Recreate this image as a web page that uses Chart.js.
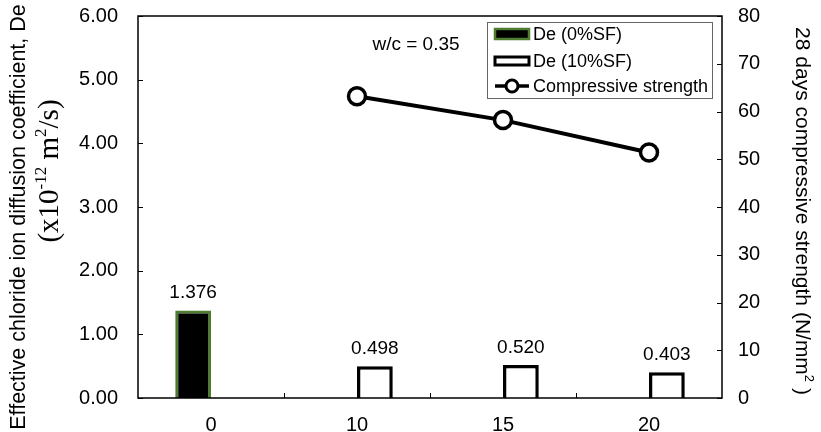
<!DOCTYPE html>
<html>
<head>
<meta charset="utf-8">
<script src="https://cdn.jsdelivr.net/npm/chart.js@4.4.1/dist/chart.umd.min.js"></script>
<style>
  html, body { margin: 0; padding: 0; background: #fff; }
  #wrap { width: 821px; height: 432px; position: relative; }
</style>
</head>
<body>
<div id="wrap"><canvas id="c" width="821" height="432"></canvas></div>
<script>
// ---- data ----
const categories = ['0', '10', '15', '20'];
const de0SF = [1.376, null, null, null];
const de10SF = [null, 0.498, 0.520, 0.403];
const strength = [null, 63.2, 58.2, 51.4];
const leftTickStep = 1;
const rightTickStep = 10;
const seriesNames = ['De (0%SF)', 'De (10%SF)', 'Compressive strength'];
const annotationText = 'w/c = 0.35';

const GREEN = '#4e7d32';
const SANS = '"Liberation Sans", Arial, sans-serif';
const SERIF = '"Liberation Serif", "Times New Roman", serif';

function drawRich(ctx, parts, cx, cy) {
  let total = 0;
  parts.forEach(p => { ctx.font = p.font; p.w = ctx.measureText(p.t).width; total += p.w; });
  let x = cx - total / 2;
  ctx.textAlign = 'left';
  ctx.textBaseline = 'middle';
  parts.forEach(p => { ctx.font = p.font; ctx.fillText(p.t, x, cy + (p.dy || 0)); x += p.w; });
}

const decor = {
  id: 'decor',
  afterDatasetsDraw(chart) {
    const ctx = chart.ctx;
    ctx.save();
    ctx.fillStyle = '#000';
    ctx.font = '19px ' + SANS;
    ctx.textAlign = 'center';
    ctx.textBaseline = 'bottom';
    [0, 1].forEach(di => {
      const meta = chart.getDatasetMeta(di);
      const data = chart.data.datasets[di].data;
      meta.data.forEach((el, i) => {
        if (data[i] === null || data[i] === undefined) return;
        ctx.fillText(data[i].toFixed(3), el.x, el.y - 8);
      });
    });
    ctx.restore();
  },
  afterDraw(chart) {
    const ctx = chart.ctx;
    const a = chart.chartArea;
    const xs = chart.scales.x, y = chart.scales.y, y1 = chart.scales.y1;
    ctx.save();
    // frame
    ctx.strokeStyle = '#000';
    ctx.lineWidth = 1.5;
    ctx.strokeRect(a.left, a.top, a.right - a.left, a.bottom - a.top);
    // ticks
    ctx.lineWidth = 1;
    ctx.beginPath();
    y.ticks.forEach(t => {
      const p = Math.round(y.getPixelForValue(t.value)) + 0.5;
      ctx.moveTo(a.left, p); ctx.lineTo(a.left + 5, p);
    });
    y1.ticks.forEach(t => {
      const p = Math.round(y1.getPixelForValue(t.value)) + 0.5;
      ctx.moveTo(a.right - 5, p); ctx.lineTo(a.right, p);
    });
    for (let i = 0; i < categories.length - 1; i++) {
      const p = Math.round((xs.getPixelForValue(i) + xs.getPixelForValue(i + 1)) / 2) + 0.5;
      ctx.moveTo(p, a.bottom); ctx.lineTo(p, a.bottom - 5);
    }
    ctx.stroke();

    // annotation
    ctx.fillStyle = '#000';
    ctx.font = '19px ' + SANS;
    ctx.textAlign = 'center';
    ctx.textBaseline = 'middle';
    ctx.fillText(annotationText, a.left + 278, a.top + 29);

    // legend
    const lx = a.left + 349, ly = a.top + 6, lw = 225, lh = 76;
    ctx.strokeStyle = '#666';
    ctx.lineWidth = 1;
    ctx.strokeRect(lx + 0.5, ly + 0.5, lw, lh);
    const ds = chart.data.datasets;
    const rows = [ly + 12, ly + 39, ly + 64];
    const sx = lx + 8, sw = 34;
    ctx.fillStyle = ds[0].backgroundColor;
    ctx.fillRect(sx, rows[0] - 5, sw, 10);
    ctx.strokeStyle = ds[0].borderColor; ctx.lineWidth = 2.5;
    ctx.strokeRect(sx, rows[0] - 5, sw, 10);
    ctx.fillStyle = ds[1].backgroundColor;
    ctx.fillRect(sx, rows[1] - 4, sw, 8);
    ctx.strokeStyle = ds[1].borderColor; ctx.lineWidth = 3;
    ctx.strokeRect(sx, rows[1] - 4, sw, 8);
    ctx.strokeStyle = ds[2].borderColor; ctx.lineWidth = 3.5;
    ctx.beginPath(); ctx.moveTo(sx, rows[2]); ctx.lineTo(sx + sw, rows[2]); ctx.stroke();
    ctx.fillStyle = '#fff'; ctx.lineWidth = 3;
    ctx.beginPath(); ctx.arc(sx + sw / 2, rows[2], 6, 0, Math.PI * 2); ctx.fill(); ctx.stroke();
    ctx.fillStyle = '#000';
    ctx.font = '18px ' + SANS;
    ctx.textAlign = 'left';
    ctx.textBaseline = 'middle';
    seriesNames.forEach((n, i) => ctx.fillText(n, sx + sw + 4, rows[i] + 1));

    // left title line 1
    ctx.save();
    ctx.translate(19, 217);
    ctx.rotate(-Math.PI / 2);
    ctx.font = '21.5px ' + SANS;
    ctx.textAlign = 'center';
    ctx.textBaseline = 'middle';
    ctx.fillText('Effective chloride ion diffusion coefficient, De', 0, 0);
    ctx.restore();
    // left title line 2
    ctx.save();
    ctx.translate(50, 171);
    ctx.rotate(-Math.PI / 2);
    drawRich(ctx, [
      { t: '(x10', font: '29px ' + SERIF },
      { t: '-12', font: '17px ' + SERIF, dy: -8 },
      { t: ' m', font: '29px ' + SERIF },
      { t: '2', font: '17px ' + SERIF, dy: -8 },
      { t: '/s)', font: '29px ' + SERIF }
    ], 0, 0);
    ctx.restore();
    // right title
    ctx.save();
    ctx.translate(802, 211);
    ctx.rotate(Math.PI / 2);
    drawRich(ctx, [
      { t: '28 days compressive strength (N/mm', font: '21px ' + SANS },
      { t: '2', font: '13px ' + SANS, dy: -7 },
      { t: ' )', font: '21px ' + SANS }
    ], 0, 0);
    ctx.restore();

    ctx.restore();
  }
};

new Chart(document.getElementById('c'), {
  type: 'bar',
  data: {
    labels: categories,
    datasets: [
      { label: seriesNames[0], data: de0SF, backgroundColor: '#000', borderColor: GREEN, borderWidth: 3,
        yAxisID: 'y', order: 2, categoryPercentage: 0.49, barPercentage: 1.0 },
      { label: seriesNames[1], data: de10SF, backgroundColor: '#fff', borderColor: '#000', borderWidth: 3.5,
        yAxisID: 'y', order: 2, categoryPercentage: 0.49, barPercentage: 1.0 },
      { type: 'line', label: seriesNames[2], data: strength, yAxisID: 'y1', order: 1,
        borderColor: '#000', borderWidth: 4, pointRadius: 8.5, pointHoverRadius: 8.5,
        pointBackgroundColor: '#fff', pointBorderColor: '#000', pointBorderWidth: 3.5, fill: false, tension: 0 }
    ]
  },
  options: {
    responsive: false,
    animation: false,
    devicePixelRatio: 1,
    layout: { autoPadding: false, padding: { top: 16, left: 0, right: 0, bottom: 0 } },
    plugins: { legend: { display: false }, title: { display: false }, tooltip: { enabled: false } },
    scales: {
      x: {
        grid: { display: false, drawTicks: false }, border: { display: false },
        ticks: { color: '#000', font: { size: 20, family: SANS }, padding: 15 },
        afterFit: s => { s.height = 34; }
      },
      y: {
        position: 'left', min: 0, max: 6,
        grid: { display: false, drawTicks: true, tickLength: 5 }, border: { display: false },
        ticks: { stepSize: leftTickStep, color: '#000', font: { size: 20, family: SANS, lineHeight: 0.1 }, padding: 15,
                 callback: v => Number(v).toFixed(2) },
        afterFit: s => { s.width = 138; }
      },
      y1: {
        position: 'right', min: 0, max: 80,
        grid: { display: false, drawTicks: true, tickLength: 5 }, border: { display: false },
        ticks: { stepSize: rightTickStep, color: '#000', font: { size: 20, family: SANS, lineHeight: 0.1 }, padding: 11 },
        afterFit: s => { s.width = 99; }
      }
    }
  },
  plugins: [decor]
});
</script>
</body>
</html>
